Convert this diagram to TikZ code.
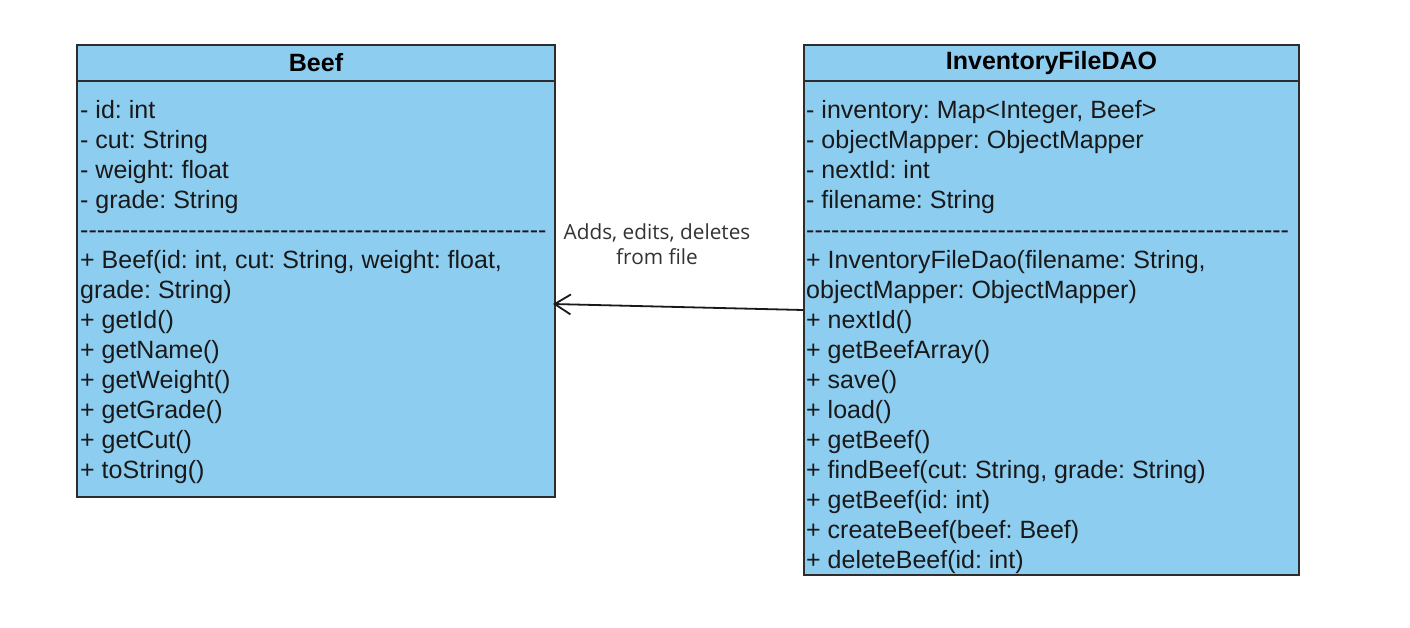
\documentclass[tikz,border=0pt]{standalone}
\usepackage{fontspec}
\setmainfont{Liberation Sans}
\newfontfamily\lblfont{Open Sans}
\usetikzlibrary{arrows.meta}
\definecolor{umlfill}{RGB}{141,205,240}
\definecolor{umlline}{RGB}{45,45,45}
\definecolor{lbltext}{RGB}{51,51,51}
\newcount\hcnt
\newcommand\hyphenrow[1]{\hcnt=0\relax\loop\ifnum\hcnt<#1 -\kern0pt\advance\hcnt by 1\relax\repeat}
\frenchspacing
\begin{document}
\begin{tikzpicture}[x=1pt,y=-1pt,
  classbox/.style={draw=umlline, fill=umlfill, line width=2pt, inner sep=0pt, anchor=north west},
  classtitle/.style={font=\fontsize{25}{30}\selectfont\bfseries\frenchspacing},
  classtext/.style={font=\fontsize{25}{30}\selectfont\frenchspacing, align=left, inner sep=0pt, anchor=base west, text=black!90},
  lbl/.style={font=\lblfont\fontsize{20.8}{25}\selectfont, align=center, text=lbltext, inner sep=0pt},
  conn/.style={draw=black!90, line width=1.8pt, -{Straight Barb[length=16pt,width=20pt,line width=1.8pt]}}
]
\useasboundingbox[fill=white] (0,0) rectangle (1410,628);

% Beef class
\node[classbox, minimum width=478pt, minimum height=416pt] (beefbody) at (76,80) {};
\node[classbox, classtitle, minimum width=478pt, minimum height=36pt] (beefhead) at (76,44) {Beef};
\node[classtext] (beeftext) at (80,478) {%
- id: int\\
- cut: String\\
- weight: float\\
- grade: String\\
\hyphenrow{56}\\
+ Beef(id: int, cut: String, weight: float,\\
grade: String)\\
+ getId()\\
+ getName()\\
+ getWeight()\\
+ getGrade()\\
+ getCut()\\
+ toString()};

% InventoryFileDAO class
\node[classbox, minimum width=495pt, minimum height=494pt] (invbody) at (803,80) {};
\node[classbox, classtitle, minimum width=495pt, minimum height=36pt] (invhead) at (803,44) {InventoryFileDAO};
\node[classtext] (invtext) at (806,568) {%
- inventory: Map<Integer, Beef>\\
- objectMapper: ObjectMapper\\
- nextId: int\\
- filename: String\\
\hyphenrow{58}\\
+ InventoryFileDao(filename: String,\\
objectMapper: ObjectMapper)\\
+ nextId()\\
+ getBeefArray()\\
+ save()\\
+ load()\\
+ getBeef()\\
+ findBeef(cut: String, grade: String)\\
+ getBeef(id: int)\\
+ createBeef(beef: Beef)\\
+ deleteBeef(id: int)};

% label and connector
\node[lbl] (note) at (657,244) {Adds, edits, deletes\\from file};
\draw[conn] ([yshift=18pt]invbody.west) -- ([yshift=-15pt,xshift=-3pt]beefbody.east);
\end{tikzpicture}
\end{document}
